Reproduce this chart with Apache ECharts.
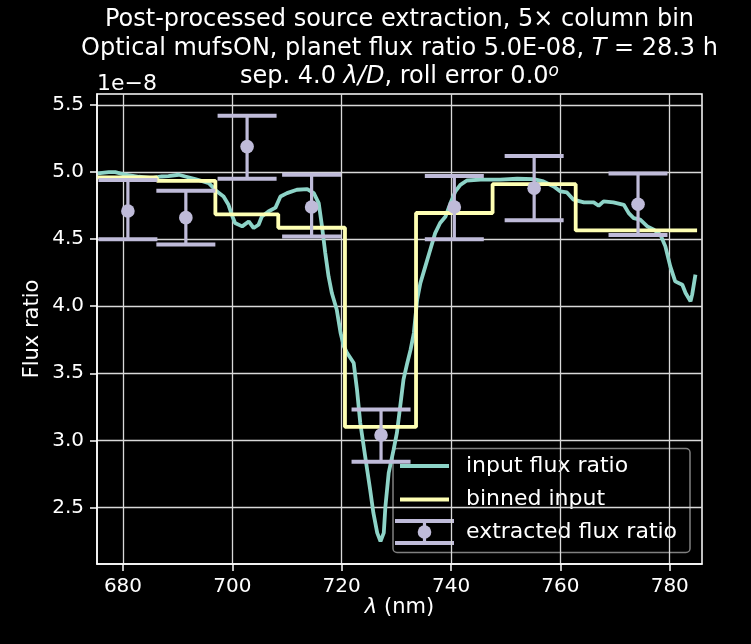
<!DOCTYPE html>
<html>
<head>
<meta charset="utf-8">
<script src="https://cdn.jsdelivr.net/npm/echarts@6/dist/echarts.min.js"></script>
<style>
  html, body { margin: 0; padding: 0; background: #000; }
  #chart { width: 751px; height: 644px; }
</style>
</head>
<body>
<div id="chart"></div>
<script>
// flux ratios are in units of 1e-8
const inputWave = [
  675.4, 677.4, 678.6, 680.4, 682.9, 685.3, 687.1, 688.3, 690.2, 691.4,
  693.2, 695.7, 697.2, 698.4, 699.3, 699.9, 700.5, 701.8, 703.0, 703.9,
  704.8, 705.4, 706.6, 707.9, 708.8, 710.0, 711.8, 713.7, 714.9, 715.8,
  716.4, 717.0, 717.6, 718.2, 719.1, 719.8, 720.4, 721.0, 722.2, 722.8,
  723.4, 724.3, 725.2, 725.8, 726.5, 727.1, 727.7, 728.0, 728.6, 729.5,
  730.1, 730.7, 731.3, 732.0, 732.6, 733.2, 733.8, 734.4, 735.3, 736.2,
  737.1, 738.0, 739.0, 739.9, 740.8, 741.7, 742.9, 745.4, 749.0, 752.1,
  755.1, 756.9, 758.8, 760.0, 761.2, 762.4, 764.3, 766.1, 767.0, 767.9,
  769.7, 771.6, 772.5, 773.4, 774.6, 775.9, 777.1, 778.3, 779.2, 780.1,
  781.0, 782.3, 782.9, 783.8, 784.1, 784.7
];
const inputFlux = [
  4.99, 5.00, 5.00, 4.98, 4.965, 4.955, 4.967, 4.97, 4.98, 4.967,
  4.948, 4.918, 4.855, 4.818, 4.756, 4.682, 4.62, 4.595, 4.632, 4.583,
  4.607, 4.669, 4.706, 4.735, 4.818, 4.843, 4.868, 4.873, 4.843, 4.769,
  4.595, 4.396, 4.222, 4.098, 3.974, 3.80, 3.70, 3.651, 3.577, 3.378,
  3.129, 2.88, 2.633, 2.459, 2.31, 2.247, 2.31, 2.508, 2.757, 2.93,
  3.055, 3.253, 3.452, 3.577, 3.676, 3.80, 4.048, 4.173, 4.297, 4.421,
  4.545, 4.62, 4.669, 4.769, 4.856, 4.905, 4.937, 4.943, 4.943, 4.95,
  4.948, 4.93, 4.893, 4.856, 4.848, 4.794, 4.774, 4.774, 4.749, 4.781,
  4.774, 4.756, 4.694, 4.657, 4.645, 4.595, 4.57, 4.533, 4.446, 4.297,
  4.185, 4.16, 4.098, 4.036, 4.086, 4.235
];

// binned input: bin edges and one level per bin
const binEdges = [675.3, 686.2, 696.9, 708.4, 720.6, 733.6, 747.6, 762.8, 785.0];
const binLevels = [4.96, 4.935, 4.685, 4.585, 3.10, 4.695, 4.91, 4.565];

// extracted flux ratio with error bars
const extWave = [680.9, 691.5, 702.7, 714.5, 727.2, 740.6, 755.2, 774.2];
const extFlux = [4.71, 4.66, 5.19, 4.74, 3.04, 4.74, 4.88, 4.76];
const extLow = [4.50, 4.46, 4.95, 4.52, 2.84, 4.50, 4.64, 4.53];
const extHigh = [4.94, 4.86, 5.42, 4.98, 3.23, 4.97, 5.12, 4.99];

const xTicks = [680, 700, 720, 740, 760, 780];
const yTicks = [2.5, 3.0, 3.5, 4.0, 4.5, 5.0, 5.5];

const TEAL = '#8dd3c7';
const YELLOW = '#feffb3';
const LAV = '#bfbbd9';
const FONT = 'DejaVu Sans';

const chart = echarts.init(document.getElementById('chart'));

const inputData = inputWave.map((w, i) => [w, inputFlux[i]]);
const binData = binEdges.map((e, i) => [e, binLevels[Math.min(i, binLevels.length - 1)]]);
const extData = extWave.map((w, i) => [w, extFlux[i], extLow[i], extHigh[i]]);

const axisCommon = {
  type: 'value',
  axisLine: { show: true, onZero: false, lineStyle: { color: '#fff', width: 1.5 } },
  axisTick: { show: true, inside: false, length: 7, lineStyle: { color: '#fff', width: 1.5 } },
  splitLine: { show: true, lineStyle: { color: '#d9d9d9', width: 1.3 } },
  axisLabel: { color: '#fff', fontSize: 20, fontFamily: FONT, margin: 13 }
};

const it = { fontFamily: FONT, fontStyle: 'italic', fontSize: 24, fill: '#fff' };

chart.setOption({
  backgroundColor: '#000',
  animation: false,
  grid: { left: 97, right: 49, top: 94, bottom: 80, show: true, borderColor: '#fff', borderWidth: 1.5 },
  xAxis: Object.assign({}, axisCommon, {
    min: 675.25, max: 785.9,
    axisTick: Object.assign({}, axisCommon.axisTick, { customValues: xTicks }),
    axisLabel: Object.assign({}, axisCommon.axisLabel, { customValues: xTicks, formatter: v => String(v) }),
    splitLine: Object.assign({}, axisCommon.splitLine, { customValues: xTicks })
  }),
  yAxis: Object.assign({}, axisCommon, {
    min: 2.078, max: 5.582,
    axisTick: Object.assign({}, axisCommon.axisTick, { customValues: yTicks }),
    axisLabel: Object.assign({}, axisCommon.axisLabel, { customValues: yTicks, formatter: v => v.toFixed(1) }),
    splitLine: Object.assign({}, axisCommon.splitLine, { customValues: yTicks })
  }),
  series: [
    {
      name: 'input flux ratio', type: 'line', data: inputData, showSymbol: false,
      lineStyle: { color: TEAL, width: 3.8 }, z: 3
    },
    {
      name: 'binned input', type: 'line', data: binData, step: 'end', showSymbol: false,
      lineStyle: { color: YELLOW, width: 3.8 }, z: 4
    },
    {
      name: 'extracted flux ratio', type: 'custom', data: extData, z: 5,
      renderItem: (params, api) => {
        const x = api.value(0);
        const c = api.coord([x, api.value(1)]);
        const lo = api.coord([x, api.value(2)]);
        const hi = api.coord([x, api.value(3)]);
        const hw = 29.5;
        return {
          type: 'group',
          children: [
            { type: 'line', shape: { x1: lo[0], y1: lo[1], x2: hi[0], y2: hi[1] }, style: { stroke: LAV, lineWidth: 3.2 } },
            { type: 'line', shape: { x1: lo[0] - hw, y1: lo[1], x2: lo[0] + hw, y2: lo[1] }, style: { stroke: LAV, lineWidth: 4 } },
            { type: 'line', shape: { x1: hi[0] - hw, y1: hi[1], x2: hi[0] + hw, y2: hi[1] }, style: { stroke: LAV, lineWidth: 4 } },
            { type: 'circle', shape: { cx: c[0], cy: c[1], r: 6.8 }, style: { fill: LAV } }
          ]
        };
      }
    }
  ],
  graphic: [
    // title
    { type: 'text', x: 399.5, y: 20, style: { text: 'Post-processed source extraction, 5× column bin', fill: '#fff', fontFamily: FONT, fontSize: 24, align: 'center', verticalAlign: 'middle' } },
    { type: 'text', x: 399.5, y: 48.5, style: {
      text: 'Optical mufsON, planet flux ratio 5.0E-08, {i|T} = 28.3 h', fill: '#fff', fontFamily: FONT, fontSize: 24,
      align: 'center', verticalAlign: 'middle', rich: { i: it } } },
    { type: 'text', x: 399.5, y: 77, style: {
      text: 'sep. 4.0 {i|λ/D}, roll error 0.0{sup|o}', fill: '#fff', fontFamily: FONT, fontSize: 24,
      align: 'center', verticalAlign: 'middle',
      rich: { i: it, sup: { fontFamily: FONT, fontStyle: 'italic', fontSize: 17, fill: '#fff', verticalAlign: 'top', lineHeight: 28 } } } },
    // offset text
    { type: 'text', x: 97, y: 84, style: { text: '1e−8', fill: '#fff', fontFamily: FONT, fontSize: 22, align: 'left', verticalAlign: 'middle' } },
    // axis titles
    { type: 'text', x: 33, y: 329, rotation: Math.PI / 2, style: { text: 'Flux ratio', fill: '#fff', fontFamily: FONT, fontSize: 21, align: 'center', verticalAlign: 'middle' } },
    { type: 'text', x: 399.5, y: 608, style: {
      text: '{i|λ} (nm)', fill: '#fff', fontFamily: FONT, fontSize: 21, align: 'center', verticalAlign: 'middle',
      rich: { i: { fontFamily: FONT, fontStyle: 'italic', fontSize: 21, fill: '#fff' } } } },
    // legend
    {
      type: 'group', z: 100,
      children: [
        { type: 'rect', shape: { x: 393, y: 448.5, width: 297, height: 104, r: 4 }, style: { fill: 'rgba(0,0,0,0.8)', stroke: '#808080', lineWidth: 1.5 } },
        { type: 'line', shape: { x1: 400, y1: 466, x2: 449, y2: 466 }, style: { stroke: TEAL, lineWidth: 3.8 } },
        { type: 'line', shape: { x1: 400, y1: 499.5, x2: 449, y2: 499.5 }, style: { stroke: YELLOW, lineWidth: 3.8 } },
        { type: 'line', shape: { x1: 424.5, y1: 521, x2: 424.5, y2: 543 }, style: { stroke: LAV, lineWidth: 3.2 } },
        { type: 'line', shape: { x1: 395, y1: 521, x2: 454, y2: 521 }, style: { stroke: LAV, lineWidth: 4 } },
        { type: 'line', shape: { x1: 395, y1: 543, x2: 454, y2: 543 }, style: { stroke: LAV, lineWidth: 4 } },
        { type: 'circle', shape: { cx: 424.5, cy: 532, r: 6.8 }, style: { fill: LAV } },
        { type: 'text', x: 466, y: 466, style: { text: 'input flux ratio', fill: '#fff', fontFamily: FONT, fontSize: 22, verticalAlign: 'middle' } },
        { type: 'text', x: 466, y: 499.5, style: { text: 'binned input', fill: '#fff', fontFamily: FONT, fontSize: 22, verticalAlign: 'middle' } },
        { type: 'text', x: 466, y: 532, style: { text: 'extracted flux ratio', fill: '#fff', fontFamily: FONT, fontSize: 22, verticalAlign: 'middle' } }
      ]
    }
  ]
});
</script>
</body>
</html>
